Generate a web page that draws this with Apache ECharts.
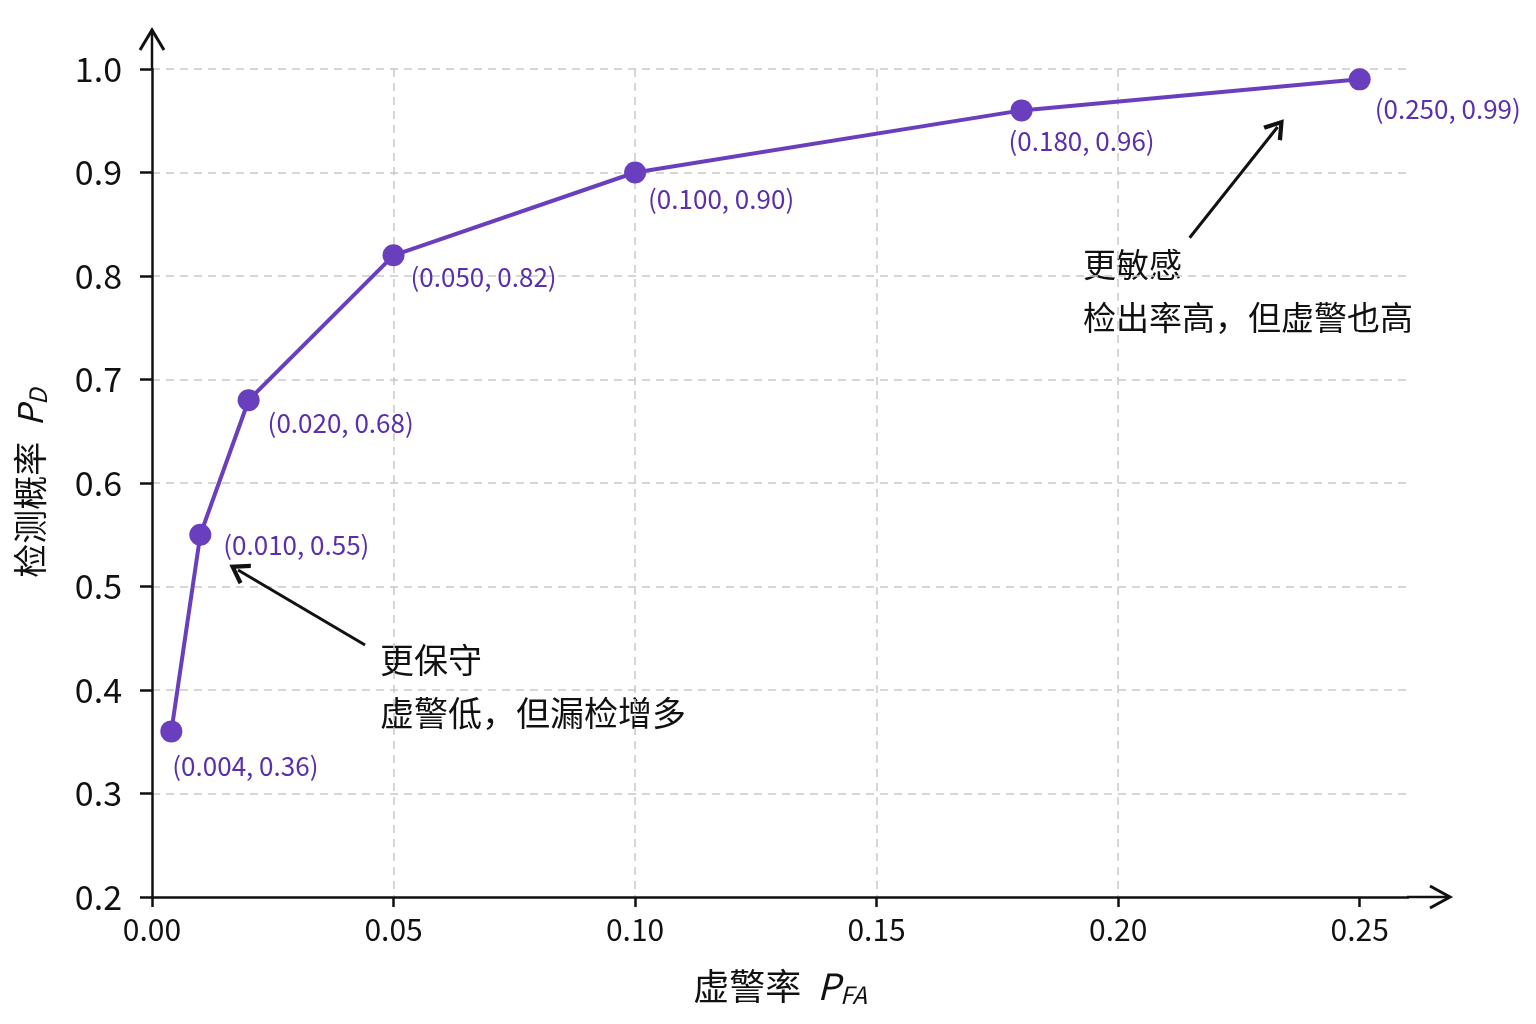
<!DOCTYPE html>
<html>
<head>
<meta charset="utf-8">
<script src="https://cdn.jsdelivr.net/npm/echarts@6/dist/echarts.min.js"></script>
<style>
  html, body { margin: 0; padding: 0; background: #ffffff; }
  #chart { width: 1536px; height: 1024px; }
</style>
</head>
<body>
<div id="chart"></div>
<script>
  // ROC 曲线数据
  const fpr = [0.004, 0.010, 0.020, 0.050, 0.100, 0.180, 0.250];
  const pd = [0.36, 0.55, 0.68, 0.82, 0.90, 0.96, 0.99];
  const xTicks = [0, 0.05, 0.10, 0.15, 0.20, 0.25];

  // label offsets relative to symbol box (not data)
  const labelPos = [[12, 46], [34, 21], [30, 34], [28, 33], [24, 38], [-2, 42], [26, 41]];

  const FONT = "'Noto Sans CJK SC', 'Noto Sans', sans-serif";
  const PURPLE = "#6a3fbd";
  const LABEL = "#5a2fae";

  const G = { left: 152, right: 128, top: 69, bottom: 127 };
  const chart = echarts.init(document.getElementById("chart"));

  const chevron = "path://M5,0 L10,8.6 L8.4,9.6 L5,3.6 L1.6,9.6 L0,8.6 Z";

  const option = {
    backgroundColor: "#ffffff",
    animation: false,
    grid: G,
    xAxis: {
      type: "value",
      min: 0,
      max: 0.26,
      interval: 0.05,
      name: "{a|虚警率  }{p|P}{s|FA}",
      nameLocation: "middle",
      nameGap: 68,
      nameTextStyle: {
        rich: {
          a: { fontFamily: FONT, fontSize: 36, color: "#111" },
          p: { fontFamily: FONT, fontSize: 36, fontStyle: "italic", color: "#111" },
          s: { fontFamily: FONT, fontSize: 24, fontStyle: "italic", color: "#111", padding: [18, 0, 0, 0] },
        },
      },
      axisLine: { show: true, lineStyle: { color: "#111", width: 2.5 } },
      axisTick: { show: true, length: 10, customValues: xTicks, lineStyle: { color: "#111", width: 2.5 } },
      axisLabel: {
        customValues: xTicks,
        margin: 18,
        fontFamily: FONT,
        fontSize: 30,
        color: "#111",
        formatter: (v) => v.toFixed(2),
      },
      splitLine: {
        show: true,
        showMinLine: false,
        showMaxLine: false,
        lineStyle: { type: [8, 6], color: "#c9c9c9", width: 1.5 },
      },
    },
    yAxis: {
      type: "value",
      min: 0.2,
      max: 1.0,
      interval: 0.1,
      name: "{a|检测概率  }{p|P}{s|D}",
      nameLocation: "middle",
      nameGap: 102,
      nameRotate: 90,
      nameTextStyle: {
        rich: {
          a: { fontFamily: FONT, fontSize: 34, color: "#111" },
          p: { fontFamily: FONT, fontSize: 34, fontStyle: "italic", color: "#111" },
          s: { fontFamily: FONT, fontSize: 24, fontStyle: "italic", color: "#111", padding: [16, 0, 0, 0] },
        },
      },
      axisLine: { show: true, lineStyle: { color: "#111", width: 2.5 } },
      axisTick: { show: true, length: 12, lineStyle: { color: "#111", width: 2.5 } },
      axisLabel: {
        margin: 30,
        fontFamily: FONT,
        fontSize: 34,
        color: "#111",
        formatter: (v) => v.toFixed(1),
      },
      splitLine: {
        show: true,
        showMinLine: false,
        lineStyle: { type: [8, 6], color: "#c9c9c9", width: 1.5 },
      },
    },
    series: [
      {
        type: "line",
        data: fpr.map((x, i) => ({
          value: [x, pd[i]],
          label: { position: labelPos[i] },
        })),
        symbol: "circle",
        symbolSize: 22,
        lineStyle: { color: PURPLE, width: 4 },
        itemStyle: { color: PURPLE },
        label: {
          show: true,
          align: "left",
          verticalAlign: "middle",
          fontFamily: FONT,
          fontSize: 26,
          color: LABEL,
          formatter: (p) => `(${p.value[0].toFixed(3)}, ${p.value[1].toFixed(2)})`,
        },
        markLine: {
          silent: true,
          symbol: ["none", chevron],
          symbolSize: [24, 20],
          label: { show: false },
          lineStyle: { color: "#111", width: 3, type: "solid" },
          data: [
            [{ coord: [0.0441, 0.4435] }, { coord: [0.0178, 0.516] }],
            [{ coord: [0.2148, 0.837] }, { coord: [0.233, 0.944] }],
          ],
        },
        z: 3,
      },
    ],
    graphic: [
      // axis extensions with open arrow heads
      { type: "line", shape: { x1: 152, y1: 70, x2: 152, y2: 30 }, style: { stroke: "#111", lineWidth: 2.5 } },
      { type: "polyline", shape: { points: [[140, 50], [152, 30], [164, 50]] }, style: { stroke: "#111", lineWidth: 3, fill: null } },
      { type: "line", shape: { x1: 1407, y1: 897, x2: 1450, y2: 897 }, style: { stroke: "#111", lineWidth: 2.5 } },
      { type: "polyline", shape: { points: [[1430, 886], [1450, 897], [1430, 908]] }, style: { stroke: "#111", lineWidth: 3, fill: null } },
      // annotations
      {
        type: "text",
        left: 380,
        top: 634,
        style: { text: "更保守\n虚警低，但漏检增多", fontFamily: FONT, fontSize: 34, lineHeight: 53, fill: "#111" },
      },
      {
        type: "text",
        left: 1083,
        top: 238,
        style: { text: "更敏感\n检出率高，但虚警也高", fontFamily: FONT, fontSize: 33, lineHeight: 53, fill: "#111" },
      },
    ],
  };

  chart.setOption(option);
</script>
</body>
</html>
